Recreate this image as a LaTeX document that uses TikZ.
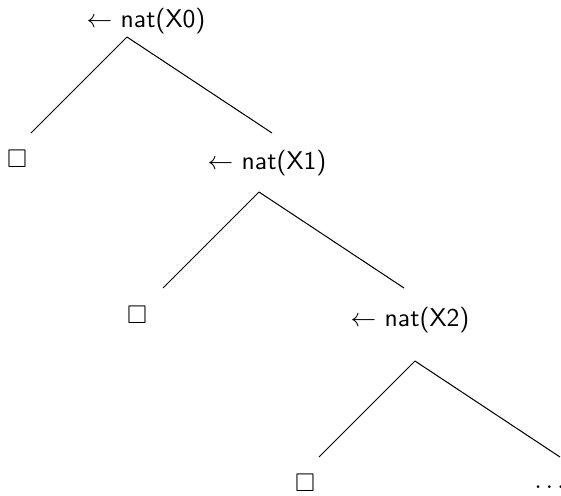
\documentclass[tikz,border=0pt]{standalone}
\usepackage{amssymb}

\begin{document}
\begin{tikzpicture}[x=0.39pt, y=-0.39pt,
      every node/.style={inner sep=0pt},
      goal/.style={font=\sffamily},
      empty/.style={}]
  \useasboundingbox (0,0) rectangle (561,495);

  % goals and empty clauses
  \node [goal] (g0) at (146,21) {$\leftarrow$ nat(X0)};
  \node [empty] (e0) at (17,159) {$\Box$};
  \node [goal] (g1) at (267,163) {$\leftarrow$ nat(X1)};
  \node [empty] (e1) at (137,315) {$\Box$};
  \node [goal] (g2) at (410,320) {$\leftarrow$ nat(X2)};
  \node [empty] (e2) at (305,483) {$\Box$};
  \node [anchor=base west] (more) at (534,488) {$\ldots$};

  % branch points under each goal
  \coordinate (a0) at (127,37);
  \coordinate (a1) at (259,192);
  \coordinate (a2) at (415,361);

  \foreach \i in {0,1,2} {
    \coordinate (l\i) at ([shift={(-96,96)}]a\i);
    \coordinate (r\i) at ([shift={(145,96)}]a\i);
    \draw (a\i) -- (l\i) (a\i) -- (r\i);
  }
\end{tikzpicture}
\end{document}
